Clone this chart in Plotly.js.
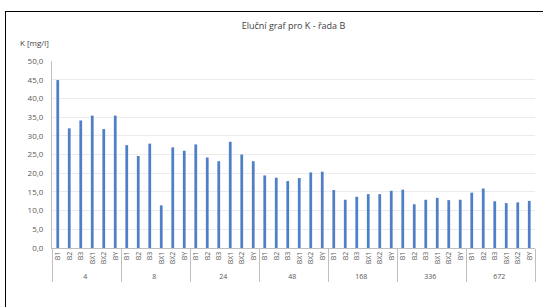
<!DOCTYPE html>
<html>
<head>
<meta charset="utf-8">
<script src="https://cdn.plot.ly/plotly-3.0.1.min.js"></script>
<style>
  html, body { margin: 0; padding: 0; background: #fff; }
  #frame { position: absolute; left: 5px; top: 11px; width: 560px; height: 320px;
           border-left: 1.5px solid #000; border-top: 1.5px solid #000; }
  #chart { position: absolute; left: 0; top: 0; width: 543px; height: 307px; }
</style>
</head>
<body>
<div id="frame"></div>
<div id="chart"></div>
<script>
const groups = ['4', '8', '24', '48', '168', '336', '672'];
const samples = ['B1', 'B2', 'B3', 'BX1', 'BX2', 'BY'];
const values4 = [44.9, 32.0, 34.1, 35.4, 31.8, 35.4];
const values8 = [27.5, 24.6, 27.9, 11.4, 26.9, 26.0];
const values24 = [27.7, 24.2, 23.2, 28.4, 25.0, 23.2];
const values48 = [19.4, 18.8, 17.9, 18.7, 20.2, 20.4];
const values168 = [15.5, 12.9, 13.7, 14.4, 14.4, 15.3];
const values336 = [15.6, 11.7, 12.9, 13.4, 12.8, 12.9];
const values672 = [14.8, 15.9, 12.5, 12.0, 12.2, 12.6];
const yTicks = [0, 5, 10, 15, 20, 25, 30, 35, 40, 45, 50];

const allValues = [values4, values8, values24, values48, values168, values336, values672];
const outer = [], inner = [], y = [];
groups.forEach((g, gi) => {
  samples.forEach((s, si) => {
    outer.push(g); inner.push(s); y.push(allValues[gi][si]);
  });
});

const fontFam = '"Open Sans", "Liberation Sans", sans-serif';
const trace = {
  type: 'bar',
  x: [outer, inner],
  y: y,
  marker: { color: '#4F7FC6', line: { width: 0 } },
  hoverinfo: 'skip'
};

const layout = {
  width: 543, height: 307,
  margin: { l: 52, r: 8, t: 61, b: 59 },
  paper_bgcolor: 'rgba(0,0,0,0)',
  plot_bgcolor: 'rgba(0,0,0,0)',
  separators: ', ',
  bargap: 0.76,
  showlegend: false,
  title: {
    text: 'Eluční graf pro K - řada B',
    x: 0.5, xanchor: 'center', xref: 'paper',
    y: 1 - 26 / 307, yanchor: 'middle',
    font: { family: fontFam, size: 9, color: '#404040' }
  },
  xaxis: {
    type: 'multicategory',
    showline: true, linecolor: '#BFBFBF', linewidth: 1,
    showgrid: false,
    ticks: '',
    tickangle: -90,
    tickfont: { family: fontFam, size: 7, color: '#595959' },
    showdividers: true, dividercolor: '#BFBFBF', dividerwidth: 1,
    fixedrange: true
  },
  yaxis: {
    range: [0, 50],
    tickvals: yTicks,
    tickformat: '.1f',
    showline: true, linecolor: '#BFBFBF', linewidth: 1,
    showgrid: true, gridcolor: '#EBEBEB', gridwidth: 1,
    zeroline: false,
    ticks: '',
    ticklabelstandoff: 6,
    tickfont: { family: fontFam, size: 8, color: '#595959' },
    fixedrange: true
  },
  annotations: [{
    text: 'K [mg/l]', xref: 'paper', yref: 'paper',
    x: -0.07, y: 1 + 19 / 187, xanchor: 'left', yanchor: 'middle',
    showarrow: false,
    font: { family: fontFam, size: 8, color: '#404040' }
  }]
};

Plotly.newPlot('chart', [trace], layout, { displayModeBar: false, staticPlot: true });
</script>
</body>
</html>
